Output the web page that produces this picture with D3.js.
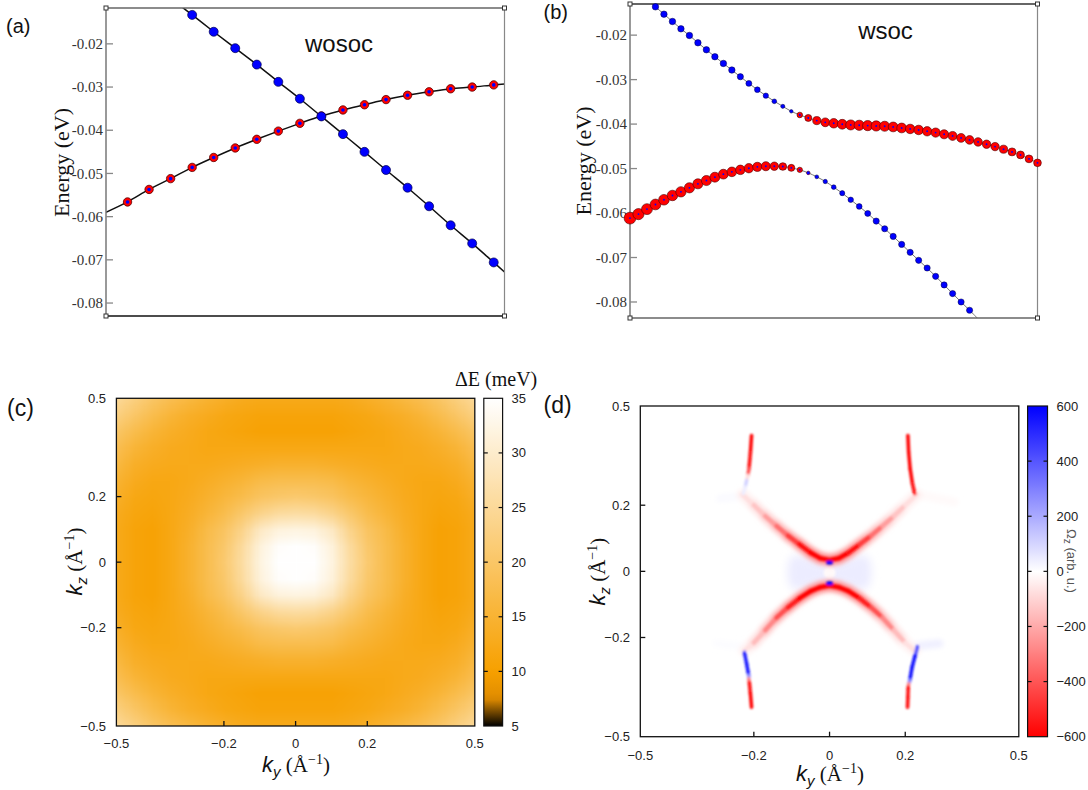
<!DOCTYPE html>
<html>
<head>
<meta charset="utf-8">
<script src="https://cdn.jsdelivr.net/npm/d3@7"></script>
<style>
  body { margin: 0; background: #fff; }
  svg { display: block; }
</style>
</head>
<body>
<svg id="fig" width="1088" height="790"></svg>
<script>
// ---------- data ----------

// (a) wosoc: two crossing bands, index along the k path
const aRedK = [1, 2, 3, 4, 5, 6, 7, 8, 9, 10, 11, 12, 13, 14, 15, 16, 17, 18];
const aRedE = [-0.0566, -0.0537, -0.0512, -0.0486, -0.0463, -0.0441, -0.0421, -0.0402, -0.0384,
  -0.0367, -0.0353, -0.0341, -0.0329, -0.0319, -0.0311, -0.0304, -0.0300, -0.0295];
const aBlueK = [4, 5, 6, 7, 8, 9, 10, 11, 12, 13, 14, 15, 16, 17, 18];
const aBlueE = [-0.0133, -0.0172, -0.0210, -0.0248, -0.0288, -0.0327, -0.0368, -0.0409, -0.0450,
  -0.0492, -0.0533, -0.0576, -0.0620, -0.0662, -0.0706];
const aRedEnds = [[0, -0.0590], [18.5, -0.0293]];
const aBlueEnds = [[3, -0.0094], [18.5, -0.0728]];
const aTicks = [-0.02, -0.03, -0.04, -0.05, -0.06, -0.07, -0.08];

// (b) wsoc: gapped bands, weights = orbital projection (red / blue)
const bK = [0, 1, 2, 3, 4, 5, 6, 7, 8, 9, 10, 11, 12, 13, 14, 15, 16, 17, 18, 19, 20, 21, 22, 23, 24,
  25, 26, 27, 28, 29, 30, 31, 32, 33, 34, 35, 36, 37, 38, 39, 40, 41, 42, 43, 44, 45, 46, 47, 48];
const bUpperE = [-0.0088, -0.0104, -0.0120, -0.01364, -0.01529, -0.01693, -0.01858, -0.02007, -0.02172,
  -0.02329, -0.02486, -0.02636, -0.02785, -0.02935, -0.03085, -0.03227, -0.03361, -0.03488, -0.03601,
  -0.03713, -0.03795, -0.03862, -0.03922, -0.03960, -0.03982, -0.04004, -0.04019, -0.04027, -0.04034,
  -0.04042, -0.04049, -0.04064, -0.04087, -0.04109, -0.04132, -0.04162, -0.04191, -0.04229, -0.04266,
  -0.04311, -0.04356, -0.04401, -0.04453, -0.04506, -0.04565, -0.04625, -0.04693, -0.04782, -0.04872];
const bUpperRed = [0, 0, 0, 0, 0, 0, 0, 0, 0, 0, 0, 0, 0, 0, 0, 0, 0, 0, 0, 0,
  0.40, 0.50, 0.58, 0.63, 0.68, 0.70, 0.72, 0.73, 0.73, 0.73, 0.72, 0.70, 0.70, 0.68, 0.68, 0.67,
  0.66, 0.65, 0.64, 0.63, 0.62, 0.61, 0.60, 0.60, 0.58, 0.57, 0.56, 0.56, 0.55];
const bUpperBlue = [0.52, 0.52, 0.52, 0.52, 0.52, 0.52, 0.52, 0.52, 0.52, 0.52, 0.52, 0.52, 0.52,
  0.50, 0.48, 0.46, 0.43, 0.38, 0.33, 0.28,
  0.15, 0.15, 0.15, 0.15, 0.15, 0.15, 0.15, 0.15, 0.15, 0.15, 0.15, 0.15, 0.15, 0.15, 0.15, 0.15,
  0.15, 0.15, 0.15, 0.15, 0.15, 0.15, 0.15, 0.15, 0.15, 0.15, 0.15, 0.15, 0.15];
const bLowerE = [-0.06114, -0.06024, -0.05912, -0.05807, -0.05702, -0.05605, -0.05523, -0.05433,
  -0.05343, -0.05269, -0.05194, -0.05126, -0.05074, -0.05029, -0.04992, -0.04962, -0.04947, -0.04947,
  -0.04954, -0.04984, -0.05029, -0.05097, -0.05186, -0.05291, -0.05418, -0.05553, -0.05702, -0.05852,
  -0.06009, -0.06181, -0.06353, -0.06525, -0.06705, -0.06884, -0.07063, -0.07236, -0.07423, -0.07617,
  -0.07811, -0.08000, -0.08186, -0.08380];
const bLowerRed = [0.85, 0.80, 0.78, 0.77, 0.76, 0.75, 0.74, 0.73, 0.72, 0.72, 0.71, 0.70, 0.69, 0.68,
  0.67, 0.66, 0.65, 0.60, 0.55, 0.50, 0.38, 0.25,
  0, 0, 0, 0, 0, 0, 0, 0, 0, 0, 0, 0, 0, 0, 0, 0, 0, 0, 0, 0];
const bLowerBlue = [0.15, 0.15, 0.15, 0.15, 0.15, 0.15, 0.15, 0.15, 0.15, 0.15, 0.15, 0.15, 0.15, 0.15,
  0.15, 0.15, 0.15, 0.15, 0.15, 0.15, 0.15, 0.26, 0.31, 0.35, 0.38, 0.41, 0.44, 0.46, 0.48,
  0.50, 0.50, 0.50, 0.50, 0.50, 0.50, 0.50, 0.50, 0.50, 0.50, 0.50, 0.50, 0.50];

// (c) gap map Delta E (meV), rows kz = 0.5 ... -0.5, columns ky = -0.5 ... 0.5
const cKy = [-0.5, -0.45, -0.4, -0.35, -0.3, -0.25, -0.2, -0.15, -0.1, -0.05, 0,
  0.05, 0.1, 0.15, 0.2, 0.25, 0.3, 0.35, 0.4, 0.45, 0.5];
const cKz = [0.5, 0.45, 0.4, 0.35, 0.3, 0.25, 0.2, 0.15, 0.1, 0.05, 0,
  -0.05, -0.1, -0.15, -0.2, -0.25, -0.3, -0.35, -0.4, -0.45, -0.5];
const cGap = [
  [25, 22.5, 20, 18, 16.5, 15, 14, 13, 12.5, 12.5, 12.5, 12.5, 12.5, 13, 14, 15, 16.5, 18, 20, 22.5, 25],
  [22.5, 20, 17.5, 15.5, 14, 13, 12, 11.5, 11, 11, 11, 11, 11, 11.5, 12, 13, 14, 15.5, 17.5, 20, 22.5],
  [20, 17.5, 15.5, 14, 13, 12, 11.5, 11, 10.5, 10.5, 10.5, 10.5, 10.5, 11, 11.5, 12, 13, 14, 15.5, 17.5, 20],
  [18, 15.5, 14, 13, 12.5, 12, 12, 12, 12, 12, 12, 12, 12, 12, 12, 12, 12.5, 13, 14, 15.5, 18],
  [16.5, 14, 13, 12.5, 12.5, 12.5, 13, 13.5, 14, 14.5, 14.5, 14.5, 14, 13.5, 13, 12.5, 12.5, 12.5, 13, 14, 16.5],
  [15, 13, 12, 12, 12.5, 13.5, 14.5, 15.5, 17, 17.5, 17.5, 17.5, 17, 15.5, 14.5, 13.5, 12.5, 12, 12, 13, 15],
  [14, 12, 11.5, 12, 13, 14.5, 16, 17.5, 19.5, 20.5, 21, 20.5, 19.5, 17.5, 16, 14.5, 13, 12, 11.5, 12, 14],
  [13, 11.5, 11, 12, 13.5, 15.5, 17.5, 20.5, 23.5, 25.5, 26, 25.5, 23.5, 20.5, 17.5, 15.5, 13.5, 12, 11, 11.5, 13],
  [12.5, 11, 10.5, 12, 14, 17, 19.5, 23.5, 29, 31.5, 32, 31.5, 29, 23.5, 19.5, 17, 14, 12, 10.5, 11, 12.5],
  [12.5, 11, 10.5, 12, 14.5, 17.5, 20.5, 25.5, 31.5, 34.5, 35, 34.5, 31.5, 25.5, 20.5, 17.5, 14.5, 12, 10.5, 11, 12.5],
  [12.5, 11, 10.5, 12, 14.5, 17.5, 21, 26, 32, 35, 35, 35, 32, 26, 21, 17.5, 14.5, 12, 10.5, 11, 12.5],
  [12.5, 11, 10.5, 12, 14.5, 17.5, 20.5, 25.5, 31.5, 34.5, 35, 34.5, 31.5, 25.5, 20.5, 17.5, 14.5, 12, 10.5, 11, 12.5],
  [12.5, 11, 10.5, 12, 14, 17, 19.5, 23.5, 29, 31.5, 32, 31.5, 29, 23.5, 19.5, 17, 14, 12, 10.5, 11, 12.5],
  [13, 11.5, 11, 12, 13.5, 15.5, 17.5, 20.5, 23.5, 25.5, 26, 25.5, 23.5, 20.5, 17.5, 15.5, 13.5, 12, 11, 11.5, 13],
  [14, 12, 11.5, 12, 13, 14.5, 16, 17.5, 19.5, 20.5, 21, 20.5, 19.5, 17.5, 16, 14.5, 13, 12, 11.5, 12, 14],
  [15, 13, 12, 12, 12.5, 13.5, 14.5, 15.5, 17, 17.5, 17.5, 17.5, 17, 15.5, 14.5, 13.5, 12.5, 12, 12, 13, 15],
  [16.5, 14, 13, 12.5, 12.5, 12.5, 13, 13.5, 14, 14.5, 14.5, 14.5, 14, 13.5, 13, 12.5, 12.5, 12.5, 13, 14, 16.5],
  [18, 15.5, 14, 13, 12.5, 12, 12, 12, 12, 12, 12, 12, 12, 12, 12, 12, 12.5, 13, 14, 15.5, 18],
  [20, 17.5, 15.5, 14, 13, 12, 11.5, 11, 10.5, 10.5, 10.5, 10.5, 10.5, 11, 11.5, 12, 13, 14, 15.5, 17.5, 20],
  [22.5, 20, 17.5, 15.5, 14, 13, 12, 11.5, 11, 11, 11, 11, 11, 11.5, 12, 13, 14, 15.5, 17.5, 20, 22.5],
  [25, 22.5, 20, 18, 16.5, 15, 14, 13, 12.5, 12.5, 12.5, 12.5, 12.5, 13, 14, 15, 16.5, 18, 20, 22.5, 25]
];
const cBarTicks = [5, 10, 15, 20, 25, 30, 35];
const kTicks = [-0.5, -0.2, 0, 0.2, 0.5];

// (d) Berry curvature ridges: [ky, kz, Omega_z]
const dUpperArc = [[-0.23, 0.232, -50], [-0.20, 0.200, -100], [-0.17, 0.167, -180], [-0.14, 0.137, -280],
  [-0.11, 0.108, -400], [-0.08, 0.082, -520], [-0.05, 0.056, -600], [-0.025, 0.040, -600], [0, 0.034, -600],
  [0.025, 0.040, -600], [0.05, 0.056, -600], [0.08, 0.082, -520], [0.11, 0.108, -400], [0.14, 0.137, -280],
  [0.17, 0.167, -180], [0.20, 0.200, -100], [0.23, 0.232, -50]];
const dLowerArc = [[-0.225, -0.240, -40], [-0.20, -0.216, -100], [-0.17, -0.178, -220], [-0.14, -0.140, -350],
  [-0.11, -0.109, -480], [-0.08, -0.082, -580], [-0.05, -0.060, -600], [-0.025, -0.048, -600], [0, -0.043, -600],
  [0.025, -0.048, -600], [0.05, -0.060, -600], [0.08, -0.082, -580], [0.11, -0.109, -480], [0.14, -0.140, -350],
  [0.17, -0.178, -220], [0.20, -0.216, -100], [0.225, -0.240, -40]];
const dTopLeft = [[-0.206, 0.411, -600], [-0.209, 0.36, -600], [-0.213, 0.31, -550], [-0.216, 0.29, -250],
  [-0.219, 0.275, 100], [-0.223, 0.255, 110], [-0.228, 0.235, -30]];
const dTopRight = [[0.207, 0.411, -600], [0.209, 0.36, -600], [0.213, 0.31, -600], [0.219, 0.265, -600],
  [0.225, 0.235, -550]];
const dBottomLeft = [[-0.225, -0.245, 450], [-0.219, -0.28, 600], [-0.2135, -0.315, 500], [-0.2135, -0.325, 0],
  [-0.212, -0.335, -550], [-0.209, -0.37, -600], [-0.206, -0.411, -600]];
const dBottomRight = [[0.232, -0.228, 250], [0.226, -0.255, 550], [0.218, -0.29, 600], [0.212, -0.33, 550],
  [0.209, -0.34, 0], [0.208, -0.35, -550], [0.207, -0.38, -600], [0.206, -0.411, -550]];
const dTails = [
  [[0.235, 0.232, -25], [0.33, 0.21, -5]],
  [[-0.235, 0.228, 20], [-0.29, 0.22, 5]],
  [[0.235, -0.225, 60], [0.29, -0.218, 15]],
  [[-0.225, -0.228, 10], [-0.30, -0.218, 3]]
];
const dHaze = [[-0.10, 0.045], [0, 0.022], [0.10, 0.045], [0.10, -0.05], [0, -0.032], [-0.10, -0.05]];
const dHazeOmega = 45;
const dHole = [0, -0.004, -15];
const dVertexDots = [[0, 0.027, 600], [0, -0.036, 600]];
const dBarTicks = [-600, -400, -200, 0, 200, 400, 600];

// ---------- drawing ----------
const svg = d3.select('#fig');
const defs = svg.append('defs');
svg.append('rect').attr('width', 1088).attr('height', 790).attr('fill', '#fff');

const serif = '"Liberation Serif", "DejaVu Serif", serif';
const sans = '"Liberation Sans", Arial, sans-serif';
const rRed = d3.scaleLinear().domain([0, 1]).range([0, 7]);
const rBlue = d3.scaleLinear().domain([0, 1]).range([0, 6.2]);

function clipRect(id, x0, y0, x1, y1) {
  defs.append('clipPath').attr('id', id).append('rect')
    .attr('x', x0).attr('y', y0).attr('width', x1 - x0).attr('height', y1 - y0);
}

function bandFrame(x, y, topCol, botCol) {
  const [x0, x1] = x.range();
  const [y1, y0] = y.range();
  const g = svg.append('g');
  g.append('line').attr('x1', x0).attr('x2', x1).attr('y1', y0).attr('y2', y0).attr('stroke', topCol).attr('stroke-width', 1.4);
  g.append('line').attr('x1', x0).attr('x2', x1).attr('y1', y1).attr('y2', y1).attr('stroke', botCol).attr('stroke-width', 1.6);
  g.append('line').attr('x1', x0).attr('x2', x0).attr('y1', y0).attr('y2', y1).attr('stroke', '#777').attr('stroke-width', 1.5);
  g.append('line').attr('x1', x1).attr('x2', x1).attr('y1', y0).attr('y2', y1).attr('stroke', '#888').attr('stroke-width', 1.2);
  [[x0, y0], [x1, y0], [x0, y1], [x1, y1]].forEach(([cx, cy]) => {
    g.append('rect').attr('x', cx - 2).attr('y', cy - 2).attr('width', 4).attr('height', 4)
      .attr('fill', '#fff').attr('stroke', '#333').attr('stroke-width', 1);
  });
  aTicks.forEach(t => {
    g.append('line').attr('x1', x0).attr('x2', x0 + 7).attr('y1', y(t)).attr('y2', y(t))
      .attr('stroke', '#888').attr('stroke-width', 1.3);
    g.append('text').attr('x', x0 - 3).attr('y', y(t)).attr('dy', '0.35em')
      .attr('text-anchor', 'end').attr('font-family', serif).attr('font-size', 15).attr('fill', '#333')
      .text(t.toFixed(2));
  });
}

function energyLabel(x, y) {
  svg.append('text').attr('transform', `translate(${x},${y}) rotate(-90)`)
    .attr('text-anchor', 'middle').attr('font-family', serif).attr('font-size', 22).attr('fill', '#111')
    .text('Energy (eV)');
}

function panelLabel(txt, x, y, size) {
  svg.append('text').attr('x', x).attr('y', y).attr('font-family', sans).attr('font-size', size)
    .attr('fill', '#111').text(txt);
}

// ----- (a)
const ax = d3.scaleLinear().domain([0, 18.5]).range([106, 504.5]);
const ay = d3.scaleLinear().domain([-0.0830, -0.0117]).range([316, 8]);
clipRect('clipA', 106, 8, 504.5, 316);
const aLine = d3.line().x(d => ax(d[0])).y(d => ay(d[1])).curve(d3.curveCatmullRom);
const aRedPts = aRedK.map((k, i) => [k, aRedE[i]]);
const aBluePts = aBlueK.map((k, i) => [k, aBlueE[i]]);
const gA = svg.append('g').attr('clip-path', 'url(#clipA)');
gA.append('path').attr('d', aLine([aRedEnds[0], ...aRedPts, aRedEnds[1]]))
  .attr('fill', 'none').attr('stroke', '#111').attr('stroke-width', 1.5);
gA.append('path').attr('d', aLine([aBlueEnds[0], ...aBluePts, aBlueEnds[1]]))
  .attr('fill', 'none').attr('stroke', '#111').attr('stroke-width', 1.5);
bandFrame(ax, ay, '#666', '#111');
const gAm = svg.append('g');
aRedPts.forEach(p => {
  gAm.append('circle').attr('cx', ax(p[0])).attr('cy', ay(p[1])).attr('r', 4.2)
    .attr('fill', '#ff0000').attr('stroke', '#5a0000').attr('stroke-width', 0.8);
  gAm.append('circle').attr('cx', ax(p[0])).attr('cy', ay(p[1])).attr('r', 1.8).attr('fill', '#0000ff');
});
aBluePts.forEach(p => {
  gAm.append('circle').attr('cx', ax(p[0])).attr('cy', ay(p[1])).attr('r', 4.5)
    .attr('fill', '#0000ff').attr('stroke', '#000050').attr('stroke-width', 0.7);
});
svg.append('text').attr('x', 339).attr('y', 52).attr('text-anchor', 'middle')
  .attr('font-family', sans).attr('font-size', 24).attr('fill', '#111').text('wosoc');
energyLabel(69, 162.5);
panelLabel('(a)', 6, 32.5, 20);

// ----- (b)
const bx = d3.scaleLinear().domain([0, 48]).range([630, 1037.5]);
const by = d3.scaleLinear().domain([-0.0836, -0.0130]).range([318, 4]);
clipRect('clipB', 630, 4, 1037.5, 318);
const bLine = d3.line().x(d => bx(d[0])).y(d => by(d[1])).curve(d3.curveCatmullRom);
const bUpper = bK.map((k, i) => ({ k, e: bUpperE[i], red: bUpperRed[i], blue: bUpperBlue[i] }));
const bLower = bLowerE.map((e, i) => ({ k: bK[i], e, red: bLowerRed[i], blue: bLowerBlue[i] }));
const gB = svg.append('g').attr('clip-path', 'url(#clipB)');
[bUpper, bLower].forEach(band => {
  gB.append('path').attr('d', bLine(band.map(d => [d.k, d.e])))
    .attr('fill', 'none').attr('stroke', '#777').attr('stroke-width', 1);
});
bandFrame(bx, by, '#333', '#666');
const gBm = svg.append('g');
const [bLo, bHi] = by.domain();
[bUpper, bLower].forEach(band => {
  band.filter(d => d.e <= bHi && d.e >= bLo).forEach(d => {
    if (d.red > 0) {
      gBm.append('circle').attr('cx', bx(d.k)).attr('cy', by(d.e)).attr('r', rRed(d.red))
        .attr('fill', '#ff0000').attr('stroke', '#4a0000').attr('stroke-width', 0.6);
    }
    gBm.append('circle').attr('cx', bx(d.k)).attr('cy', by(d.e)).attr('r', rBlue(d.blue))
      .attr('fill', '#0000ff').attr('stroke', d.red > 0 ? 'none' : '#000040').attr('stroke-width', 0.5);
  });
});
svg.append('text').attr('x', 885.5).attr('y', 39.3).attr('text-anchor', 'middle')
  .attr('font-family', sans).attr('font-size', 24).attr('fill', '#111').text('wsoc');
energyLabel(591, 161);
panelLabel('(b)', 543.5, 19, 20);

// ----- shared helpers for maps
const fmtK = d3.format('');
function kAxes(x, y, yLabelX, xLabelY) {
  const [x0, x1] = x.range();
  const [y1, y0] = y.range();
  const g = svg.append('g');
  g.append('rect').attr('x', x0).attr('y', y0).attr('width', x1 - x0).attr('height', y1 - y0)
    .attr('fill', 'none').attr('stroke', '#111').attr('stroke-width', 1.3);
  kTicks.forEach(t => {
    if (Math.abs(t) < 0.5) {
      g.append('line').attr('x1', x(t)).attr('x2', x(t)).attr('y1', y1).attr('y2', y1 - 5).attr('stroke', '#111').attr('stroke-width', 1.3);
      g.append('line').attr('x1', x0).attr('x2', x0 + 5).attr('y1', y(t)).attr('y2', y(t)).attr('stroke', '#111').attr('stroke-width', 1.3);
    }
    g.append('text').attr('x', x(t)).attr('y', xLabelY).attr('dy', '0.35em').attr('text-anchor', 'middle')
      .attr('font-family', sans).attr('font-size', 13).attr('fill', '#222').text(fmtK(t));
    g.append('text').attr('x', yLabelX).attr('y', y(t)).attr('dy', '0.35em').attr('text-anchor', 'end')
      .attr('font-family', sans).attr('font-size', 13).attr('fill', '#222').text(fmtK(t));
  });
}

function kLabel(sel, sub) {
  sel.attr('fill', '#111');
  sel.append('tspan').attr('font-family', sans).attr('font-style', 'italic').attr('font-size', 22).text('k');
  sel.append('tspan').attr('font-family', sans).attr('font-style', 'italic').attr('font-size', 15).attr('dy', 5).text(sub);
  sel.append('tspan').attr('font-family', serif).attr('font-size', 21).attr('dy', -5).text(' (Å');
  sel.append('tspan').attr('font-family', serif).attr('font-size', 14).attr('dy', -8).text('−1');
  sel.append('tspan').attr('font-family', serif).attr('font-size', 21).attr('dy', 8).text(')');
}

function colorBar(id, color, ys, x0, x1, ticks, inner) {
  const [lo, hi] = ys.domain();
  const grad = defs.append('linearGradient').attr('id', id)
    .attr('x1', 0).attr('y1', 1).attr('x2', 0).attr('y2', 0);
  d3.range(0, 1.0001, 0.02).forEach(f => {
    grad.append('stop').attr('offset', f).attr('stop-color', color(lo + f * (hi - lo)));
  });
  const [yb, yt] = ys.range();
  const g = svg.append('g');
  g.append('rect').attr('x', x0).attr('y', yt).attr('width', x1 - x0).attr('height', yb - yt)
    .attr('fill', `url(#${id})`).attr('stroke', '#111').attr('stroke-width', 1.2);
  inner.forEach(t => {
    g.append('line').attr('x1', x0).attr('x2', x0 + 4).attr('y1', ys(t)).attr('y2', ys(t)).attr('stroke', '#111').attr('stroke-width', 1.2);
    g.append('line').attr('x1', x1 - 4).attr('x2', x1).attr('y1', ys(t)).attr('y2', ys(t)).attr('stroke', '#111').attr('stroke-width', 1.2);
  });
  ticks.forEach(t => {
    g.append('text').attr('x', x1 + 9).attr('y', ys(t)).attr('dy', '0.35em')
      .attr('font-family', sans).attr('font-size', 13).attr('fill', '#222').text(fmtK(t));
  });
}

// ----- (c)
const cx = d3.scaleLinear().domain([-0.5, 0.5]).range([116.4, 474.8]);
const cy = d3.scaleLinear().domain([-0.5, 0.5]).range([726, 398.3]);
const cColor = d3.scaleLinear().domain([5, 7.5, 10, 35])
  .range(['#000000', '#e08c00', '#f7a000', '#ffffff']).clamp(true);
clipRect('clipC', 116.4, 398.3, 474.8, 726);
const cv = document.createElement('canvas');
cv.width = cKy.length; cv.height = cKz.length;
const ctx = cv.getContext('2d');
const img = ctx.createImageData(cv.width, cv.height);
cGap.forEach((row, r) => row.forEach((v, c) => {
  const col = d3.rgb(cColor(v));
  const p = (r * cv.width + c) * 4;
  img.data[p] = col.r; img.data[p + 1] = col.g; img.data[p + 2] = col.b; img.data[p + 3] = 255;
}));
ctx.putImageData(img, 0, 0);
const cStepY = cKy[1] - cKy[0];
const cStepZ = cKz[0] - cKz[1];
svg.append('g').attr('clip-path', 'url(#clipC)').append('image')
  .attr('href', cv.toDataURL())
  .attr('x', cx(cKy[0] - cStepY / 2)).attr('y', cy(cKz[0] + cStepZ / 2))
  .attr('width', cx(cKy[cKy.length - 1] + cStepY / 2) - cx(cKy[0] - cStepY / 2))
  .attr('height', cy(cKz[cKz.length - 1] - cStepZ / 2) - cy(cKz[0] + cStepZ / 2))
  .attr('preserveAspectRatio', 'none').style('image-rendering', 'auto');
kAxes(cx, cy, 106, 743);
const cBarY = d3.scaleLinear().domain([5, 35]).range([726, 398.3]);
colorBar('gradC', cColor, cBarY, 483.8, 502.6, cBarTicks, [10, 15, 20, 25, 30]);
svg.append('text').attr('x', 455).attr('y', 386).attr('font-family', serif).attr('font-size', 20)
  .attr('fill', '#111').text('ΔE (meV)');
kLabel(svg.append('text').attr('x', 296).attr('y', 772).attr('text-anchor', 'middle'), 'y');
kLabel(svg.append('text').attr('transform', 'translate(82,561.5) rotate(-90)').attr('text-anchor', 'middle'), 'z');
panelLabel('(c)', 7, 415.5, 23);

// ----- (d)
const dx = d3.scaleLinear().domain([-0.5, 0.5]).range([640.3, 1018.8]);
const dy = d3.scaleLinear().domain([-0.5, 0.5]).range([736.7, 406]);
const dColor = d3.scaleLinear().domain([-600, 0, 600]).range(['#ff0000', '#ffffff', '#0000ff']).clamp(true);
clipRect('clipD', 640.3, 406, 1018.8, 736.7);
const soft = defs.append('filter').attr('id', 'soft').attr('x', '-10%').attr('y', '-10%').attr('width', '120%').attr('height', '120%');
soft.append('feGaussianBlur').attr('stdDeviation', 1.2);
const wide = defs.append('filter').attr('id', 'wide').attr('x', '-10%').attr('y', '-10%').attr('width', '120%').attr('height', '120%');
wide.append('feGaussianBlur').attr('stdDeviation', 2.5);
const haze = defs.append('filter').attr('id', 'haze').attr('x', '-30%').attr('y', '-60%').attr('width', '160%').attr('height', '220%');
haze.append('feGaussianBlur').attr('stdDeviation', 4);
const gD = svg.append('g').attr('clip-path', 'url(#clipD)');
gD.append('path')
  .attr('d', d3.line().x(d => dx(d[0])).y(d => dy(d[1])).curve(d3.curveCatmullRomClosed)(dHaze))
  .attr('fill', dColor(dHazeOmega)).attr('filter', 'url(#haze)');
gD.append('circle').attr('cx', dx(dHole[0])).attr('cy', dy(dHole[1])).attr('r', 6)
  .attr('fill', dColor(dHole[2])).attr('filter', 'url(#soft)');
const gDh = gD.append('g').attr('filter', 'url(#wide)');
const gDr = gD.append('g').attr('filter', 'url(#soft)');
function ridge(g, pts, width, gain) {
  for (let i = 0; i < pts.length - 1; i++) {
    const a = pts[i], b = pts[i + 1];
    g.append('line').attr('x1', dx(a[0])).attr('y1', dy(a[1])).attr('x2', dx(b[0])).attr('y2', dy(b[1]))
      .attr('stroke', dColor(gain * (a[2] + b[2]) / 2)).attr('stroke-width', width).attr('stroke-linecap', 'round');
  }
}
dTails.forEach(t => ridge(gDh, t, 8, 1));
ridge(gDh, dUpperArc, 11, 0.5);
ridge(gDh, dLowerArc, 11, 0.5);
ridge(gDr, dUpperArc, 4.5, 1);
ridge(gDr, dLowerArc, 4.5, 1);
ridge(gDr, dTopLeft, 3.5, 1);
ridge(gDr, dTopRight, 3.5, 1);
ridge(gDr, dBottomLeft, 3.5, 1);
ridge(gDr, dBottomRight, 3.5, 1);
dVertexDots.forEach(p => {
  gDr.append('ellipse').attr('cx', dx(p[0])).attr('cy', dy(p[1])).attr('rx', 3.5).attr('ry', 2)
    .attr('fill', dColor(p[2]));
});
kAxes(dx, dy, 630, 755.7);
const dBarY = d3.scaleLinear().domain([-600, 600]).range([736.7, 406]);
colorBar('gradD', dColor, dBarY, 1027.6, 1047.5, dBarTicks, [-400, -200, 0, 200, 400]);
const om = svg.append('text').attr('transform', 'translate(1067,561) rotate(90)').attr('text-anchor', 'middle')
  .attr('font-family', sans).attr('font-size', 13).attr('fill', '#555');
om.append('tspan').text('Ω');
om.append('tspan').attr('font-size', 10).attr('dy', 3).text('z');
om.append('tspan').attr('dy', -3).text(' (arb. u.)');
kLabel(svg.append('text').attr('x', 830).attr('y', 781).attr('text-anchor', 'middle'), 'y');
kLabel(svg.append('text').attr('transform', 'translate(605,571.7) rotate(-90)').attr('text-anchor', 'middle'), 'z');
panelLabel('(d)', 543.5, 412.5, 23);
</script>
</body>
</html>
